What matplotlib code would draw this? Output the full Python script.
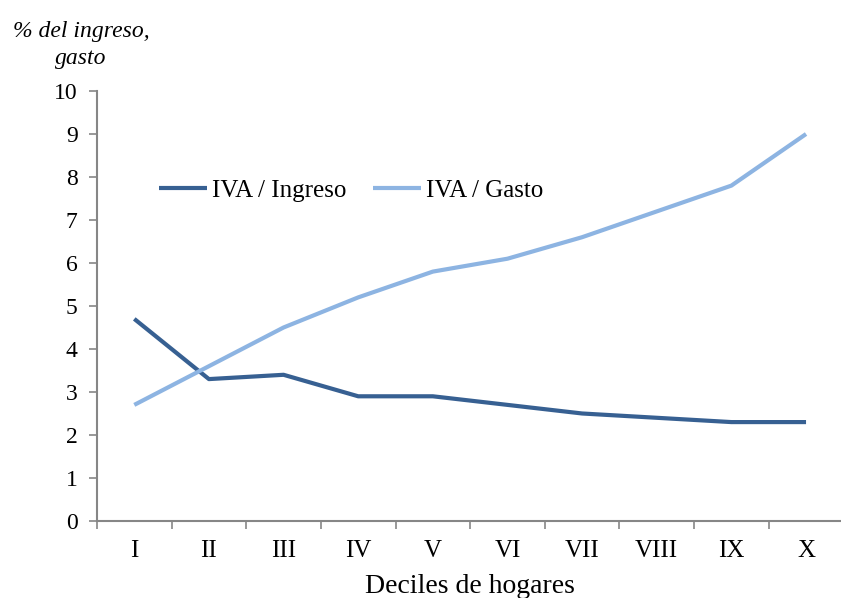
import numpy as np
import matplotlib.pyplot as plt
from matplotlib.ticker import FixedLocator

# deciles and VAT burden (% of income / % of spending)
deciles = ['I', 'II', 'III', 'IV', 'V', 'VI', 'VII', 'VIII', 'IX', 'X']
iva_ingreso = [4.7, 3.3, 3.4, 2.9, 2.9, 2.7, 2.5, 2.4, 2.3, 2.3]
iva_gasto = [2.7, 3.6, 4.5, 5.2, 5.8, 6.1, 6.6, 7.2, 7.8, 9.0]

plt.rcParams['font.family'] = ['Liberation Serif', 'DejaVu Serif']
fs = 17

fig = plt.figure(figsize=(8.41, 5.98), dpi=100)
ax = fig.add_axes([0.1153, 0.1288, 0.8875, 0.719])

x = np.arange(len(deciles))
ax.plot(x, iva_ingreso, color='#376092', lw=3, label='IVA / Ingreso', solid_capstyle='butt')
ax.plot(x, iva_gasto, color='#8DB4E2', lw=3, label='IVA / Gasto', solid_capstyle='butt')

ax.set_xlim(-0.5, len(deciles) - 0.5)
ax.set_ylim(0, 10)
ax.set_yticks(range(0, 11))
ax.set_xticks(x)
ax.set_xticklabels(deciles)
ax.xaxis.set_minor_locator(FixedLocator(np.arange(-0.5, len(deciles), 1.0)))
ax.tick_params(axis='x', which='major', length=0, pad=14, labelsize=18)
ax.tick_params(axis='x', which='minor', length=6, width=1.2, color='#868686', direction='out')
ax.tick_params(axis='y', length=6, width=1.2, color='#868686', direction='out', pad=8, labelsize=fs)

for s in ['top', 'right']:
    ax.spines[s].set_visible(False)
for s in ['left', 'bottom']:
    ax.spines[s].set_color('#868686')
    ax.spines[s].set_linewidth(1.5)

ax.set_xlabel('Deciles de hogares', fontsize=20, labelpad=8)

fig.text(0.0963, 0.965, '% del ingreso,\ngasto', fontsize=fs, style='italic',
         ha='center', va='top', linespacing=1.35, multialignment='center')

ax.legend(loc='upper left', bbox_to_anchor=(0.053, 0.846), ncol=2, frameon=False,
          fontsize=18, handlelength=1.9, handletextpad=0.2, columnspacing=1.1)

fig.savefig('out.png', dpi=100)
